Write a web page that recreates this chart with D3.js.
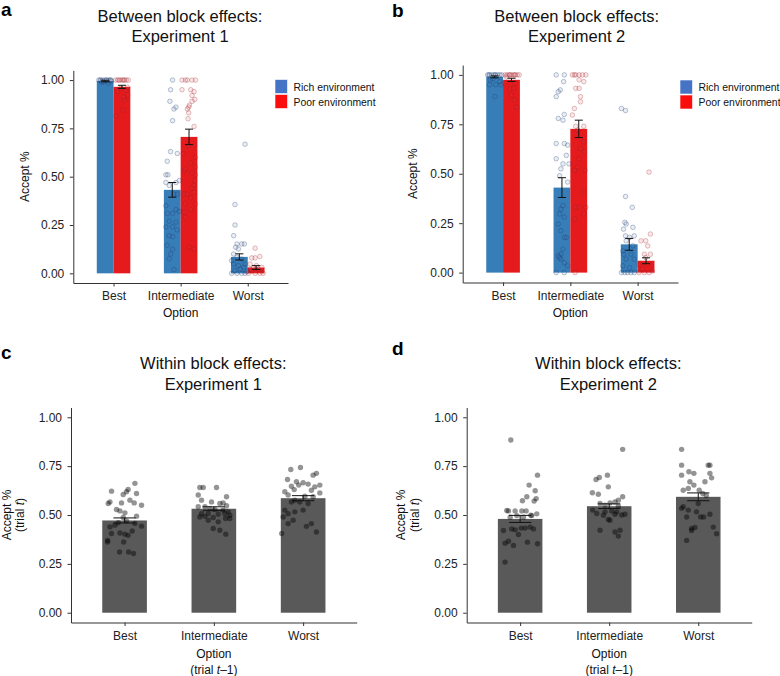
<!DOCTYPE html>
<html><head><meta charset="utf-8">
<script src="https://cdn.jsdelivr.net/npm/d3@7"></script>
<style>body{margin:0;background:#fff}svg{display:block}text{font-family:"Liberation Sans",Arial,Helvetica,sans-serif}</style>
</head><body><svg id="chart" width="780" height="676"></svg>
<script>
// ---------- data ----------
const categories = ["Best", "Intermediate", "Worst"];
const environments = ["Rich environment", "Poor environment"];
const yTicks = [0, 0.25, 0.5, 0.75, 1];

// Between block effects (means and standard errors)
const exp1Rich = [0.995, 0.432, 0.085];
const exp1RichSE = [0.004, 0.038, 0.016];
const exp1Poor = [0.965, 0.706, 0.030];
const exp1PoorSE = [0.008, 0.040, 0.010];
const exp2Rich = [0.990, 0.430, 0.143];
const exp2RichSE = [0.005, 0.050, 0.030];
const exp2Poor = [0.975, 0.727, 0.060];
const exp2PoorSE = [0.008, 0.044, 0.015];

// Within block effects
const within1 = [0.472, 0.532, 0.586];
const within1SE = [0.013, 0.010, 0.013];
const within2 = [0.480, 0.545, 0.593];
const within2SE = [0.018, 0.012, 0.020];

// participant points: [category index, jitter offset (category units), value]
const exp1RichPts = [
 [0,-0.22,1],[0,-0.19,1],[0,-0.16,1],[0,-0.13,1],[0,-0.10,1],[0,-0.07,1],[0,-0.04,1],[0,-0.20,1],[0,-0.11,1],[0,-0.05,1],[0,-0.15,0.99],[0,-0.08,0.985],[0,-0.18,0.99],[0,-0.03,0.995],
 [1,-0.12,1],[1,-0.15,0.95],[1,-0.16,0.89],[1,-0.10,0.85],[1,-0.07,0.86],[1,-0.12,0.79],[1,-0.15,0.63],[1,-0.05,0.62],[1,-0.20,0.58],[1,-0.22,0.51],[1,-0.19,0.51],[1,-0.22,0.47],[1,-0.17,0.455],[1,-0.02,0.48],[1,-0.07,0.47],[1,-0.10,0.41],[1,-0.22,0.35],[1,-0.07,0.33],[1,-0.12,0.31],[1,-0.20,0.31],[1,-0.02,0.32],[1,-0.17,0.27],[1,-0.07,0.265],[1,-0.12,0.24],[1,-0.05,0.225],[1,-0.17,0.195],[1,-0.12,0.19],[1,-0.20,0.145],[1,-0.12,0.125],[1,-0.17,0.075],[1,-0.15,0.10],[1,-0.10,0.02],[1,-0.22,0.24],[1,-0.05,0.41],
 [2,-0.04,0.668],[2,-0.19,0.356],[2,-0.19,0.25],[2,-0.21,0.195],[2,-0.16,0.152],[2,-0.09,0.152],[2,-0.05,0.152],[2,-0.14,0.126],[2,-0.21,0.10],[2,-0.16,0.083],[2,-0.09,0.074],[2,-0.21,0.048],[2,-0.14,0.04],[2,-0.06,0.031],[2,-0.19,0.014],[2,-0.24,0],[2,-0.16,0],[2,-0.09,0],[2,-0.04,0],[2,-0.11,0.022],[2,-0.24,0.066],[2,-0.04,0.048],[2,-0.18,0.135],[2,-0.01,0.01]
];
const exp1PoorPts = [
 [0,0.03,1],[0,0.06,1],[0,0.10,1],[0,0.13,1],[0,0.16,1],[0,0.19,1],[0,0.22,1],[0,0.08,1],[0,0.15,1],[0,0.14,0.844],[0,0.04,0.813],[0,0.16,0.896],[0,0.15,0.913],[0,0.21,0.922],[0,0.19,0.948],[0,0.11,0.957],[0,0.21,0.962],[0,0.06,0.94],
 [1,0.02,1],[1,0.07,1],[1,0.10,1],[1,0.17,1],[1,0.22,1],[1,0.02,0.95],[1,0.15,0.95],[1,0.20,0.94],[1,0.17,0.92],[1,0.21,0.90],[1,0.17,0.89],[1,0.13,0.87],[1,0.10,0.85],[1,0.12,0.86],[1,0.12,0.83],[1,0.11,0.80],[1,0.20,0.76],[1,0.05,0.53],[1,0.07,0.54],[1,0.22,0.51],[1,0.17,0.52],[1,0.21,0.48],[1,0.20,0.455],[1,0.17,0.44],[1,0.20,0.42],[1,0.05,0.41],[1,0.07,0.36],[1,0.05,0.317],[1,0.15,0.33],[1,0.22,0.60],[1,0.15,0.57],[1,0.22,0.55],[1,0.13,0.135],[1,0.20,0.126],[1,0.15,0.39],[1,0.10,0.41],[1,0.07,0.29],[1,0.22,0.36],[1,0.04,0.62],[1,0.12,0.66],
 [2,0.11,0.13],[2,0.06,0.08],[2,0.11,0.08],[2,0.18,0.087],[2,0.035,0.048],[2,0.13,0.04],[2,0.21,0.031],[2,0.06,0.014],[2,0.11,0],[2,0.18,0],[2,0.01,0],[2,0.23,0],[2,0.085,0.03],[2,0.16,0.022],[2,0.035,0.022]
];
const exp2RichPts = [
 [0,-0.23,1],[0,-0.20,1],[0,-0.17,1],[0,-0.14,1],[0,-0.11,1],[0,-0.08,1],[0,-0.05,1],[0,-0.02,1],[0,-0.21,1],[0,-0.12,1],[0,-0.19,0.975],[0,-0.05,0.966],[0,-0.11,0.95],[0,-0.03,0.95],[0,-0.20,0.95],[0,-0.12,0.89],[0,-0.15,0.98],
 [1,-0.21,1],[1,-0.09,1],[1,-0.10,0.966],[1,-0.15,0.924],[1,-0.18,0.915],[1,-0.21,0.89],[1,-0.09,0.80],[1,-0.18,0.78],[1,-0.11,0.771],[1,-0.21,0.653],[1,-0.09,0.653],[1,-0.04,0.645],[1,-0.06,0.593],[1,-0.21,0.576],[1,-0.11,0.55],[1,-0.14,0.525],[1,-0.16,0.49],[1,-0.04,0.458],[1,-0.11,0.339],[1,-0.14,0.32],[1,-0.16,0.297],[1,-0.09,0.28],[1,-0.18,0.246],[1,-0.14,0.212],[1,-0.06,0.178],[1,-0.09,0.178],[1,-0.11,0.119],[1,-0.14,0.093],[1,-0.18,0.085],[1,-0.14,0.068],[1,-0.09,0.05],[1,-0.04,0.034],[1,-0.21,0],[1,-0.09,0],[1,-0.16,0.076],[1,-0.02,0.55],
 [2,-0.24,0.83],[2,-0.18,0.82],[2,-0.18,0.385],[2,-0.08,0.33],[2,-0.19,0.254],[2,-0.17,0.246],[2,-0.21,0.22],[2,-0.07,0.229],[2,-0.18,0.186],[2,-0.12,0.178],[2,-0.05,0.186],[2,-0.17,0.161],[2,-0.22,0.11],[2,-0.10,0.093],[2,-0.17,0.068],[2,-0.05,0.068],[2,-0.22,0.034],[2,-0.24,0],[2,-0.19,0],[2,-0.15,0],[2,-0.10,0],[2,-0.05,0],[2,-0.12,0.025],[2,-0.07,0.136],[2,-0.21,0.093]
];
const exp2PoorPts = [
 [0,0.03,1],[0,0.06,1],[0,0.09,1],[0,0.12,1],[0,0.15,1],[0,0.18,1],[0,0.21,1],[0,0.24,1],[0,0.10,1],[0,0.17,1],[0,0.02,0.958],[0,0.18,0.958],[0,0.10,0.93],[0,0.16,0.932],[0,0.12,0.90],[0,0.17,0.873],[0,0.20,0.836],[0,0.05,0.99],
 [1,0.03,1],[1,0.06,1],[1,0.08,1],[1,0.13,1],[1,0.18,1],[1,0.23,1],[1,0.13,0.975],[1,0.20,0.966],[1,0.08,0.932],[1,0.13,0.932],[1,0.15,0.89],[1,0.15,0.864],[1,0.06,0.83],[1,0.03,0.797],[1,0.08,0.74],[1,0.20,0.74],[1,0.11,0.72],[1,0.20,0.661],[1,0.15,0.627],[1,0.21,0.61],[1,0.13,0.576],[1,0.11,0.534],[1,0.06,0.517],[1,0.22,0.517],[1,0.20,0.407],[1,0.08,0.33],[1,0.13,0.33],[1,0.23,0.33],[1,0.20,0.297],[1,0.06,0.271],[1,0.07,0],
 [2,0.17,0.508],[2,0.19,0.195],[2,0.05,0.161],[2,0.12,0.161],[2,0.15,0.135],[2,0.10,0.093],[2,0.19,0.093],[2,0.02,0.042],[2,0.15,0.042],[2,0.07,0.017],[2,0.17,0],[2,0.02,0],[2,0.10,0],[2,0.22,0.008],[2,0.12,0.076]
];
const within1Pts = [
 [0,0.116,0.662],[0,0.04,0.631],[0,-0.146,0.622],[0,-0.015,0.605],[0,0.134,0.61],[0,0.022,0.619],[0,0.06,0.576],[0,-0.034,0.562],[0,-0.164,0.567],[0,-0.183,0.559],[0,0.108,0.562],[0,0.19,0.55],[0,-0.09,0.528],[0,-0.052,0.521],[0,0.004,0.511],[0,0.134,0.494],[0,-0.015,0.487],[0,0.022,0.47],[0,-0.071,0.46],[0,0.116,0.457],[0,-0.108,0.448],[0,-0.164,0.439],[0,0.19,0.443],[0,-0.052,0.408],[0,0.004,0.402],[0,-0.146,0.405],[0,0.04,0.396],[0,0.086,0.418],[0,-0.19,0.37],[0,-0.19,0.362],[0,-0.01,0.362],[0,-0.056,0.311],[0,0.045,0.311],[0,0.10,0.303],
 [1,-0.157,0.641],[1,-0.119,0.641],[1,0.03,0.641],[1,-0.175,0.602],[1,0.142,0.593],[1,-0.138,0.576],[1,-0.026,0.567],[1,0.067,0.559],[1,0.104,0.562],[1,0.142,0.547],[1,-0.175,0.542],[1,-0.10,0.542],[1,-0.045,0.533],[1,0.011,0.528],[1,0.104,0.525],[1,0.16,0.516],[1,-0.138,0.507],[1,-0.063,0.507],[1,0.049,0.504],[1,0.123,0.507],[1,0.179,0.499],[1,-0.157,0.49],[1,-0.10,0.493],[1,-0.007,0.487],[1,0.131,0.482],[1,0.179,0.482],[1,-0.063,0.473],[1,0.049,0.465],[1,-0.007,0.431],[1,0.067,0.422],[1,0.134,0.402],
 [2,-0.138,0.733],[2,-0.03,0.743],[2,0.149,0.713],[2,0.112,0.704],[2,-0.175,0.682],[2,-0.075,0.67],[2,0,0.665],[2,0.056,0.658],[2,0.131,0.644],[2,0.187,0.653],[2,-0.131,0.647],[2,-0.049,0.653],[2,-0.10,0.63],[2,-0.205,0.619],[2,0.093,0.627],[2,0.187,0.613],[2,-0.168,0.602],[2,0.019,0.596],[2,0.112,0.593],[2,-0.093,0.576],[2,-0.131,0.567],[2,-0.037,0.567],[2,0.056,0.559],[2,-0.205,0.525],[2,-0.168,0.507],[2,-0.093,0.516],[2,0,0.525],[2,-0.112,0.473],[2,-0.224,0.49],[2,-0.168,0.456],[2,0.093,0.456],[2,0.037,0.442],[2,0.149,0.413],[2,-0.24,0.405]
];
const within2Pts = [
 [0,-0.105,0.884],[0,0.195,0.704],[0,0.101,0.653],[0,0.169,0.624],[0,0.075,0.593],[0,0.026,0.573],[0,0.18,0.584],[0,0.157,0.571],[0,-0.131,0.521],[0,-0.056,0.521],[0,0.019,0.521],[0,0.067,0.521],[0,0.12,0.499],[0,-0.187,0.421],[0,-0.094,0.429],[0,-0.056,0.424],[0,0.011,0.433],[0,0.056,0.433],[0,0.112,0.438],[0,0.15,0.429],[0,-0.169,0.356],[0,-0.131,0.366],[0,-0.075,0.344],[0,-0.019,0.40],[0,0.082,0.361],[0,0.195,0.353],[0,-0.169,0.259],[0,-0.112,0.489],[0,-0.037,0.497],[0,0.037,0.489],[0,0.131,0.497],[0,0.187,0.506],[0,-0.15,0.523],
 [1,0.151,0.836],[1,-0.148,0.682],[1,-0.111,0.692],[1,-0.02,0.704],[1,-0.01,0.644],[1,-0.189,0.614],[1,-0.122,0.606],[1,0.151,0.593],[1,-0.103,0.559],[1,0.009,0.562],[1,0.065,0.567],[1,0.103,0.576],[1,-0.047,0.55],[1,0.103,0.545],[1,-0.185,0.525],[1,-0.14,0.508],[1,-0.047,0.516],[1,0.028,0.521],[1,0.084,0.516],[1,0.177,0.504],[1,-0.065,0.499],[1,0.065,0.504],[1,-0.01,0.477],[1,0.009,0.473],[1,-0.103,0.422],[1,0.122,0.422],[1,0.065,0.413],[1,0.103,0.392],[1,0.14,0.50],
 [2,-0.187,0.836],[2,-0.187,0.755],[2,0.112,0.755],[2,0.131,0.755],[2,-0.187,0.704],[2,-0.105,0.721],[2,-0.049,0.713],[2,0.131,0.713],[2,0.075,0.67],[2,-0.094,0.67],[2,-0.049,0.653],[2,-0.169,0.627],[2,-0.112,0.636],[2,0.011,0.627],[2,0.15,0.69],[2,-0.169,0.542],[2,-0.187,0.534],[2,-0.112,0.525],[2,-0.02,0.516],[2,0,0.559],[2,0.026,0.49],[2,0.06,0.49],[2,0.131,0.504],[2,-0.13,0.49],[2,-0.075,0.431],[2,-0.037,0.436],[2,0.206,0.404],[2,0.169,0.438],[2,-0.13,0.37],[2,-0.075,0.421],[2,0.05,0.61],[2,0.09,0.6]
];

// ---------- drawing ----------
const svg = d3.select("#chart");
const FONT = 12;
const AX = "#333333";
const barColors = ["#377eb8", "#e41a1c"];
const legendColors = ["#4573c6", "#fb0d0d"];
const ptStroke = ["rgba(25,55,100,0.32)", "rgba(150,25,35,0.30)"];
const ptFill = ["rgba(70,110,170,0.12)", "rgba(210,70,80,0.12)"];

function drawAxes(g, x, y, p) {
  const ya = g.append("g").attr("transform", `translate(${p.left},0)`)
    .call(d3.axisLeft(y).tickValues(yTicks).tickFormat(d3.format(".2f")).tickSize(3.5).tickSizeOuter(0).tickPadding(5.5));
  const xa = g.append("g").attr("transform", `translate(0,${p.bottom})`)
    .call(d3.axisBottom(x).tickValues([1, 2, 3]).tickFormat(i => categories[i - 1]).tickSize(3.5).tickSizeOuter(0).tickPadding(5));
  [ya, xa].forEach(a => {
    a.select(".domain").attr("stroke", AX).attr("stroke-width", 1);
    a.selectAll(".tick line").attr("stroke", AX).attr("stroke-width", 1);
    a.selectAll(".tick text").attr("fill", "#222").attr("font-size", FONT).attr("font-family", '"Liberation Sans",Arial,sans-serif');
  });
}

function title(p, l1, l2, y1, y2) {
  const t = svg.append("g").attr("font-size", 16.5).attr("fill", "#111").attr("text-anchor", "middle");
  t.append("text").attr("x", p.titleX).attr("y", y1).text(l1);
  t.append("text").attr("x", p.titleX).attr("y", y2).text(l2);
  svg.append("text").attr("x", p.labelX).attr("y", p.labelY).attr("font-size", 19).attr("font-weight", "bold").attr("fill", "#000").text(p.label);
}

function drawBetween(p) {
  const x = d3.scaleLinear().domain([0.4, 3.6]).range([p.left, p.right]);
  const y = d3.scaleLinear().domain([-0.05, 1.05]).range([p.bottom, p.top]);
  const g = svg.append("g");
  const off = [-0.125, 0.125];
  const bars = [];
  categories.forEach((c, i) => {
    bars.push({ cat: i, env: 0, v: p.rich[i], se: p.richSE[i] });
    bars.push({ cat: i, env: 1, v: p.poor[i], se: p.poorSE[i] });
  });
  const bw = x(1.25) - x(1);
  g.selectAll("rect.bar").data(bars).join("rect").attr("class", "bar")
    .attr("x", d => x(d.cat + 1 + off[d.env]) - bw / 2).attr("width", bw)
    .attr("y", d => y(d.v)).attr("height", d => y(0) - y(d.v))
    .attr("fill", d => barColors[d.env]);
  const pts = p.richPts.map(d => ({ cat: d[0], dx: d[1], v: d[2], env: 0 }))
    .concat(p.poorPts.map(d => ({ cat: d[0], dx: d[1], v: d[2], env: 1 })));
  g.selectAll("circle").data(pts).join("circle")
    .attr("cx", d => x(d.cat + 1 + d.dx)).attr("cy", d => y(d.v)).attr("r", 2.3)
    .attr("fill", d => ptFill[d.env]).attr("stroke", d => ptStroke[d.env]).attr("stroke-width", 0.9);
  const cw = x(1.06) - x(1);
  g.selectAll("path.err").data(bars).join("path").attr("class", "err")
    .attr("d", d => {
      const cx = x(d.cat + 1 + off[d.env]), lo = y(d.v - d.se), hi = y(Math.min(1.0, d.v + d.se));
      return `M${cx - cw},${hi}H${cx + cw}M${cx},${hi}V${lo}M${cx - cw},${lo}H${cx + cw}`;
    })
    .attr("stroke", "#111").attr("stroke-width", 1).attr("fill", "none");
  drawAxes(g, x, y, p);
  // y title
  svg.append("text").attr("transform", `translate(${p.yTitleX},${(p.top + p.bottom) / 2}) rotate(-90)`)
    .attr("text-anchor", "middle").attr("font-size", 12).attr("fill", "#111").text("Accept %");
  svg.append("text").attr("x", x(2)).attr("y", p.bottom + 34).attr("text-anchor", "middle")
    .attr("font-size", 12).attr("fill", "#111").text("Option");
  // legend
  const lg = svg.append("g");
  environments.forEach((e, i) => {
    lg.append("rect").attr("x", p.legX).attr("y", p.legY + i * 15).attr("width", 12.5).attr("height", 14)
      .attr("fill", legendColors[i]).attr("stroke", "#fff").attr("stroke-width", 0.6);
    lg.append("text").attr("x", p.legX + 18.5).attr("y", p.legY + i * 15 + 11.3).attr("font-size", 10.4).attr("fill", "#111").text(e);
  });
  title(p, "Between block effects:", p.exp, 21.7, 41.7);
}

function drawWithin(p) {
  const x = d3.scaleLinear().domain([0.4, 3.6]).range([p.left, p.right]);
  const y = d3.scaleLinear().domain([-0.05, 1.05]).range([p.bottom, p.top]);
  const g = svg.append("g");
  const bars = p.means.map((v, i) => ({ cat: i, v, se: p.se[i] }));
  const bw = x(1.5) - x(1);
  g.selectAll("rect").data(bars).join("rect")
    .attr("x", d => x(d.cat + 1) - bw / 2).attr("width", bw)
    .attr("y", d => y(d.v)).attr("height", d => y(0) - y(d.v)).attr("fill", "#595959");
  g.selectAll("circle").data(p.pts.map(d => ({ cat: d[0], dx: d[1], v: d[2] }))).join("circle")
    .attr("cx", d => x(d.cat + 1 + d.dx)).attr("cy", d => y(d.v)).attr("r", 2.7)
    .attr("fill", "rgba(0,0,0,0.42)");
  const cw = x(1.125) - x(1);
  g.selectAll("path.err").data(bars).join("path").attr("class", "err")
    .attr("d", d => {
      const cx = x(d.cat + 1), lo = y(d.v - d.se), hi = y(d.v + d.se);
      return `M${cx - cw},${hi}H${cx + cw}M${cx},${hi}V${lo}M${cx - cw},${lo}H${cx + cw}`;
    })
    .attr("stroke", "#111").attr("stroke-width", 1).attr("fill", "none");
  drawAxes(g, x, y, p);
  const cy = (p.top + p.bottom) / 2;
  svg.append("text").attr("transform", `translate(${p.yTitleX},${cy}) rotate(-90)`)
    .attr("text-anchor", "middle").attr("font-size", 12).attr("fill", "#111").text("Accept %");
  const t2 = svg.append("text").attr("transform", `translate(${p.yTitleX + 13.5},${cy}) rotate(-90)`)
    .attr("text-anchor", "middle").attr("font-size", 12).attr("fill", "#111");
  t2.append("tspan").text("(trial ");
  t2.append("tspan").attr("font-style", "italic").text("t");
  t2.append("tspan").text(")");
  svg.append("text").attr("x", x(2)).attr("y", p.bottom + 35.5).attr("text-anchor", "middle")
    .attr("font-size", 12).attr("fill", "#111").text("Option");
  const t3 = svg.append("text").attr("x", x(2)).attr("y", p.bottom + 51.5).attr("text-anchor", "middle")
    .attr("font-size", 12).attr("fill", "#111");
  t3.append("tspan").text("(trial ");
  t3.append("tspan").attr("font-style", "italic").text("t");
  t3.append("tspan").text("–1)");
  title(p, "Within block effects:", p.exp, 369.3, 390);
}

drawBetween({ left: 73.3, right: 288, top: 70.4, bottom: 283, rich: exp1Rich, richSE: exp1RichSE, poor: exp1Poor, poorSE: exp1PoorSE,
  richPts: exp1RichPts, poorPts: exp1PoorPts, exp: "Experiment 1", titleX: 180, label: "a", labelX: 1, labelY: 16,
  yTitleX: 28.5, legX: 275, legY: 79.5 });
drawBetween({ left: 462.7, right: 678, top: 65, bottom: 282.5, rich: exp2Rich, richSE: exp2RichSE, poor: exp2Poor, poorSE: exp2PoorSE,
  richPts: exp2RichPts, poorPts: exp2PoorPts, exp: "Experiment 2", titleX: 576.7, label: "b", labelX: 392, labelY: 17,
  yTitleX: 417, legX: 680, legY: 80 });
drawWithin({ left: 71, right: 356.7, top: 407.5, bottom: 622.5, means: within1, se: within1SE, pts: within1Pts,
  exp: "Experiment 1", titleX: 213.3, label: "c", labelX: 1, labelY: 359, yTitleX: 10.5 });
drawWithin({ left: 466.7, right: 751.7, top: 407.5, bottom: 622.5, means: within2, se: within2SE, pts: within2Pts,
  exp: "Experiment 2", titleX: 608.3, label: "d", labelX: 392, labelY: 355, yTitleX: 405.3 });
</script></body></html>
